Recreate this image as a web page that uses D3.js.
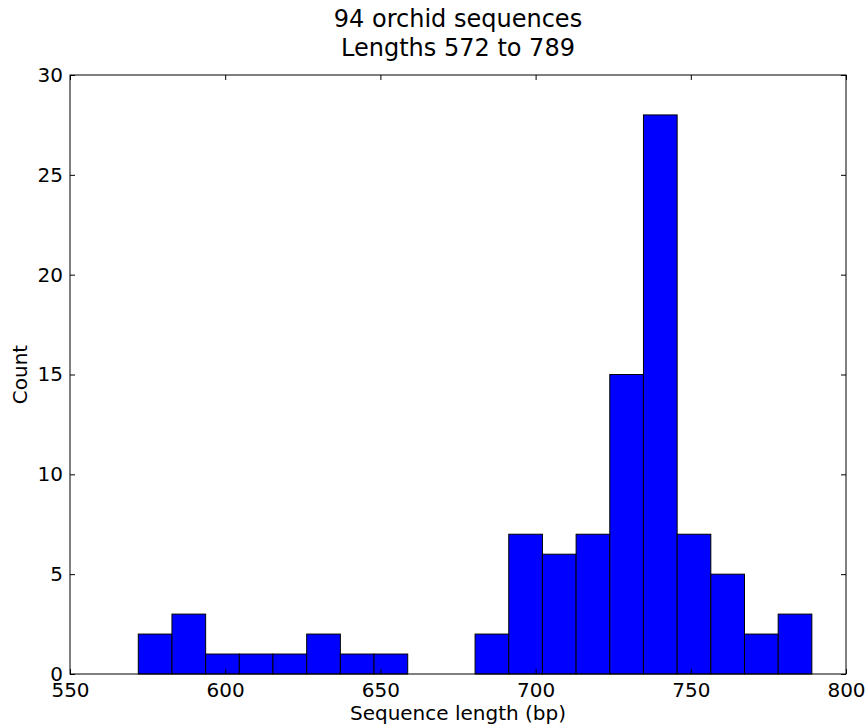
<!DOCTYPE html>
<html><head><meta charset="utf-8">
<script src="https://cdn.jsdelivr.net/npm/d3@7"></script>
<style>body{margin:0;background:#fff}svg{display:block}text{font-family:"DejaVu Sans",sans-serif;fill:#000}</style>
</head><body>
<script>
const binStart = 572, binEnd = 789;
const counts = [2,3,1,1,1,2,1,1,0,0,2,7,6,7,15,28,7,5,2,3];
const xTicks = [550,600,650,700,750,800];
const yTicks = [0,5,10,15,20,25,30];
const titleLines = ["94 orchid sequences","Lengths 572 to 789"];
const xLabel = "Sequence length (bp)", yLabel = "Count";

const W=865,H=725, L=70,R=846,T=75,B=674;
const svg=d3.select("body").append("svg").attr("width",W).attr("height",H);
const x=d3.scaleLinear().domain([550,800]).range([L,R]);
const y=d3.scaleLinear().domain([0,30]).range([B,T]);
const bw=(binEnd-binStart)/counts.length;
const bins=counts.map((c,i)=>({x0:binStart+i*bw,x1:binStart+(i+1)*bw,c}));

svg.append("g").selectAll("rect").data(bins.filter(d=>d.c>0)).join("rect")
  .attr("x",d=>x(d.x0)).attr("width",d=>x(d.x1)-x(d.x0))
  .attr("y",d=>y(d.c)).attr("height",d=>y(0)-y(d.c))
  .attr("fill","#0000ff").attr("stroke","#000").attr("stroke-width",1);

const tl=5;
function ax(gen,tr){ const g=svg.append("g").attr("transform",tr).call(gen);
  g.select(".domain").remove(); g.selectAll("line").attr("stroke","#000"); return g;}
const fs=20;
const bx=ax(d3.axisBottom(x).tickValues(xTicks).tickSize(-tl).tickPadding(9).tickFormat(d3.format("d")),`translate(0,${B})`);
bx.selectAll("text").attr("font-size",fs).attr("fill","#000").attr("font-family","DejaVu Sans");
ax(d3.axisTop(x).tickValues(xTicks).tickSize(-tl).tickFormat(""),`translate(0,${T})`);
const ly=ax(d3.axisLeft(y).tickValues(yTicks).tickSize(-tl).tickPadding(7),`translate(${L},0)`);
ly.selectAll("text").attr("font-size",fs).attr("fill","#000").attr("font-family","DejaVu Sans");
ax(d3.axisRight(y).tickValues(yTicks).tickSize(-tl).tickFormat(""),`translate(${R},0)`);

svg.append("rect").attr("x",L).attr("y",T).attr("width",R-L).attr("height",B-T)
  .attr("fill","none").attr("stroke","#000").attr("stroke-width",1);

svg.append("text").attr("x",(L+R)/2).attr("y",27).attr("text-anchor","middle").attr("font-size",24).text(titleLines[0]);
svg.append("text").attr("x",(L+R)/2).attr("y",56).attr("text-anchor","middle").attr("font-size",24).text(titleLines[1]);
svg.append("text").attr("x",(L+R)/2).attr("y",720).attr("text-anchor","middle").attr("font-size",20).text(xLabel);
svg.append("text").attr("transform",`translate(27,${(T+B)/2}) rotate(-90)`).attr("text-anchor","middle").attr("font-size",20).text(yLabel);
</script>
</body></html>
